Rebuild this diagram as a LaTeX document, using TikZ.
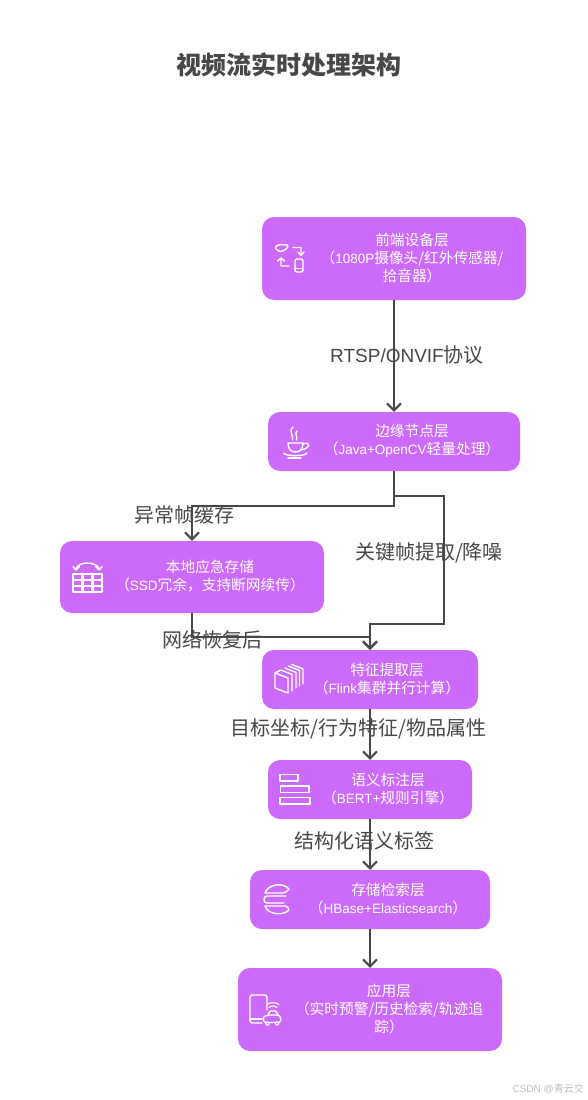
\documentclass[tikz,border=0pt]{standalone}
\usepackage{fontspec}
\setmainfont{Noto Sans CJK SC}
\newfontfamily\lat{Liberation Sans}
\newcommand{\boxlat}[1]{{\lat\fontsize{13.5}{18}\selectfont #1}}
\usetikzlibrary{arrows.meta}
\definecolor{boxfill}{HTML}{CC6BFB}
\definecolor{ink}{HTML}{474747}
\tikzset{
  x=1pt,y=-1pt,
  layer/.style={fill=boxfill,draw=none,rounded corners=12pt,inner sep=0pt},
  boxtext/.style={text=white,align=center,inner sep=0pt,font=\fontsize{14.7}{18}\selectfont},
  edgelabel/.style={text=ink,inner sep=0pt,font=\fontsize{20}{24}\selectfont},
  link/.style={draw=ink,line width=2pt,-{Straight Barb[length=7pt,width=14pt,line width=2pt]}},
  glyph/.style={draw=white,line width=1.4pt,line join=round,line cap=round},
}
\begin{document}
\begin{tikzpicture}
\useasboundingbox (0,0) rectangle (588,1100);
\fill[white] (0,0) rectangle (588,1100);
\node[text=ink,inner sep=0pt,font=\fontsize{25}{28}\selectfont\bfseries] (title) at (289,65) {视频流实时处理架构};
\node[layer,minimum width=264pt,minimum height=83pt] (n1) at (394,258.5) {};
\node[layer,minimum width=252pt,minimum height=59pt] (n2) at (394,441.5) {};
\node[layer,minimum width=264pt,minimum height=72pt] (n3) at (192,577) {};
\node[layer,minimum width=216pt,minimum height=59pt] (n4) at (370,679.5) {};
\node[layer,minimum width=204pt,minimum height=59pt] (n5) at (370,789.5) {};
\node[layer,minimum width=240pt,minimum height=59pt] (n6) at (370,899.5) {};
\node[layer,minimum width=264pt,minimum height=83pt] (n7) at (370,1009.5) {};
\draw[link] (n1.south) -- (n2.north);
\draw[link] (n2.south) -- ++(0,35) -| (n3.north);
\draw[link] (n2.south) -- ++(0,25) -- ++(50,0) -- ++(0,128) -- ++(-74,0) -- (n4.north);
\draw[link] (n3.south) -- ++(0,24) -| (n4.north);
\draw[link] (n4.south) -- (n5.north);
\draw[link] (n5.south) -- (n6.north);
\draw[link] (n6.south) -- (n7.north);
% box texts
\node[boxtext] (t1) at (412,258) {前端设备层\\（\boxlat{1080P}摄像头/红外传感器/\\拾音器）};
\node[boxtext] (t2) at (412,441) {边缘节点层\\（\boxlat{Java+OpenCV}轻量处理）};
\node[boxtext] (t3) at (210,576) {本地应急存储\\（\boxlat{SSD}冗余，支持断网续传）};
\node[boxtext] (t4) at (387,679) {特征提取层\\（\boxlat{Flink}集群并行计算）};
\node[boxtext] (t5) at (388,789) {语义标注层\\（\boxlat{BERT+}规则引擎）};
\node[boxtext] (t6) at (388,899) {存储检索层\\（\boxlat{HBase+Elasticsearch}）};
\node[boxtext] (t7) at (389,1009) {应用层\\（实时预警/历史检索/轨迹追\\踪）};
% edge labels
\node[edgelabel] (l1) at (407,355) {{\lat\fontsize{19}{24}\selectfont RTSP/ONVIF}协议};
\node[edgelabel] (l2) at (184,515) {异常帧缓存};
\node[edgelabel] (l3) at (429,552.5) {关键帧提取/降噪};
\node[edgelabel] (l4) at (212,640) {网络恢复后};
\node[edgelabel] (l5) at (358.5,729) {目标坐标/行为特征/物品属性};
\node[edgelabel] (l6) at (364,841) {结构化语义标签};
\node[text=black!25,inner sep=0pt,anchor=east,font=\fontsize{10}{12}\selectfont] (wm) at (584,1089) {{\lat CSDN @}青云交};
% icon 1
\draw[glyph,rounded corners=2pt] (295,259) rectangle (303,272);
\draw[glyph] (295,268.5) -- (303,268.5);
\draw[glyph,rounded corners=1.5pt] (274.5,247.5) -- (279,244.5) -- (288.5,245) -- (287,248.5) -- (282,251.5) -- (278,251) -- cycle;
\draw[glyph] (293,247.5) -- (301,247.5) -- (301,255) (298,252) -- (301,255.5) -- (304,252);
\draw[glyph] (289,266) -- (281,266) -- (281,258) (277.5,261) -- (281,258) -- (284.5,261);
% icon 2 java
\draw[glyph] (293,427) .. controls (288,432) and (294,435) .. (292.5,440);
\draw[glyph] (297,431) .. controls (294,434) and (298,436) .. (296.5,440);
\draw[glyph] (288,443) -- (303,443) .. controls (303,449) and (300,452) .. (295.5,452) .. controls (291,452) and (288,449) .. (288,443);
\draw[glyph] (303,444) .. controls (311,441) and (311,448) .. (301,450);
\draw[glyph] (284,453) .. controls (283,456) and (305,457) .. (307,453);
\draw[glyph] (288,458) -- (301,458);
% icon 3
\foreach \xa/\xb in {73/82,83/92,93/102} {
  \draw[glyph] (\xa,574) rectangle (\xb,592);
  \draw[glyph] (\xa,580) -- (\xb,580) (\xa,586) -- (\xb,586);
}
\draw[glyph] (76,569) .. controls (78,561) and (97,561) .. (99,569);
\draw[glyph] (73,566.5) -- (76,570) -- (79.5,566.5);
\draw[glyph] (95.5,566.5) -- (99,570) -- (102,566.5);
% icon 4
\draw[glyph] (275,673) -- (288,678) -- (288,693) -- (275,688) -- cycle;
\draw[glyph] (275,673) -- (281,670) -- (292,674.5) -- (292,691);
\draw[glyph] (285,668) -- (296,672.5) -- (296,688);
\draw[glyph] (288.5,666) -- (299.5,670.5) -- (299.5,686);
\draw[glyph] (292,664.5) -- (303,669) -- (303,684);
% icon 5
\draw[glyph] (280,774.5) rectangle (298,781);
\draw[glyph] (280.5,786) rectangle (309,792.5);
\draw[glyph] (280,797.5) rectangle (310,804);
% icon 6
\draw[glyph] (265,893) .. controls (268,884) and (283,882) .. (289,889) .. controls (287,891) and (286,893) .. (283,893) -- cycle;
\draw[glyph] (286,896) -- (267,896) .. controls (263,896) and (263,903) .. (267,903) -- (284,903);
\draw[glyph] (265,906) -- (285,906) .. controls (287,906) and (289,908) .. (289,910) .. controls (283,916) and (268,915) .. (265,906) -- cycle;
% icon 7
\draw[glyph,rounded corners=2.5pt] (262,1023) -- (250,1023) -- (250,995) -- (267,995) -- (267,1010);
\draw[glyph] (250,1019) -- (262,1019);
\draw[glyph,rounded corners=1.5pt] (264,1022.5) -- (263,1017) -- (268,1015) -- (278,1015) -- (281,1017) -- (280.5,1022.5) -- cycle;
\draw[glyph,rounded corners=1pt] (268,1015) -- (270,1011) -- (276,1011) -- (278,1015);
\draw[glyph,line width=1.1pt] (269,1007.5) .. controls (271,1005.5) and (275,1005.5) .. (277,1007.5);
\draw[glyph,line width=1.1pt] (267,1004.5) .. controls (270,1002) and (276,1002) .. (279,1004.5);
\fill[white] (267.5,1023.5) circle (2.2pt) (277,1023.5) circle (2.2pt);
\fill[boxfill] (267.5,1023.5) circle (0.9pt) (277,1023.5) circle (0.9pt);
\end{tikzpicture}
\end{document}
